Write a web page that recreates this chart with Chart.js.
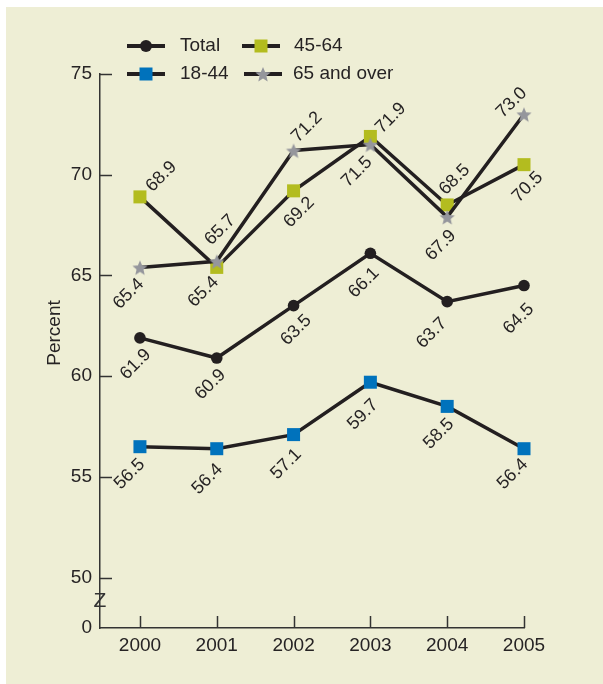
<!DOCTYPE html>
<html>
<head>
<meta charset="utf-8">
<script src="https://cdn.jsdelivr.net/npm/chart.js@4.4.1/dist/chart.umd.min.js"></script>
<style>
  body { margin: 0; background: #fff; }
  #wrap { width: 603px; height: 684px; }
</style>
</head>
<body>
<div id="wrap"><canvas id="pctChart" width="603" height="684"></canvas></div>
<script>
// data
const years = ['2000', '2001', '2002', '2003', '2004', '2005'];
const total = [61.9, 60.9, 63.5, 66.1, 63.7, 64.5];
const age1844 = [56.5, 56.4, 57.1, 59.7, 58.5, 56.4];
const age4564 = [68.9, 65.4, 69.2, 71.9, 68.5, 70.5];
const age65 = [65.4, 65.7, 71.2, 71.5, 67.9, 73.0];
const yTicks = [47.5, 50, 55, 60, 65, 70, 75]; // 47.5 sits at the broken-axis "0"
const yTickLabels = ['0', '50', '55', '60', '65', '70', '75'];

// label placement: [dx, dy, anchor side]
const totalNudge = [[8,14,'r'],[6,14,'r'],[15,12,'r'],[6,17,'r'],[-3,19,'r'],[7,21,'r']];
const nudge1844 = [[2,15,'r'],[3,18,'r'],[5,17,'r'],[5,20,'r'],[4,15,'r'],[1,13,'r']];
const nudge4564 = [[9,-8,'l'],[-1,12,'r'],[18,9,'r'],[8,-6,'l'],[-5,-13,'l'],[16,10,'r']];
const nudge65 = [[1,14,'r'],[-9,-19,'l'],[1,-11,'l'],[-1,15,'r'],[6,16,'r'],[0,-24,'r']];

const INK = '#231f20';
const TXT = '#262324';
const FONT = '"Liberation Sans", Arial, sans-serif';

function makeStar(r, color) {
    const s = Math.ceil(r * 2) + 2;
    const c = document.createElement('canvas');
    c.width = s; c.height = s;
    const g = c.getContext('2d');
    g.fillStyle = color;
    g.beginPath();
    for (let i = 0; i < 10; i++) {
        const rad = i % 2 ? r * 0.45 : r;
        const a = -Math.PI / 2 + i * Math.PI / 5;
        g.lineTo(s / 2 + rad * Math.cos(a), s / 2 + 1 + rad * Math.sin(a));
    }
    g.closePath();
    g.fill();
    return c;
}
const star = makeStar(8, '#95969c');

const toPts = arr => arr.map((v, i) => ({ x: i, y: v }));

const series = [
    { label: 'Total', data: toPts(total), pointStyle: 'circle', pointRadius: 5.8,
      pointBackgroundColor: INK, labelNudge: totalNudge, order: 3 },
    { label: '18-44', data: toPts(age1844), pointStyle: 'rect', pointRadius: 9.2,
      pointBackgroundColor: '#0072bc', labelNudge: nudge1844, order: 2 },
    { label: '45-64', data: toPts(age4564), pointStyle: 'rect', pointRadius: 9.2,
      pointBackgroundColor: '#b3bc1f', labelNudge: nudge4564, order: 1 },
    { label: '65 and over', data: toPts(age65), pointStyle: star, pointRadius: 8,
      pointBackgroundColor: '#95969c', labelNudge: nudge65, order: 0 }
];
series.forEach(s => {
    s.borderColor = INK;
    s.borderWidth = 3.5;
    s.pointBorderWidth = 0;
    s.pointBorderColor = 'rgba(0,0,0,0)';
    s.tension = 0;
    s.fill = false;
    s.clip = false;
});

// background, axis ticks, break mark, title, legend, value labels
const decor = {
    id: 'decor',
    beforeDraw(chart) {
        const c = chart.ctx;
        c.save();
        c.fillStyle = '#ffffff';
        c.fillRect(0, 0, chart.width, chart.height);
        c.fillStyle = '#eeeed5';
        c.fillRect(6, 7, chart.width - 6, chart.height - 7);
        c.restore();
    },
    afterDatasetsDraw(chart) {
        const c = chart.ctx;
        const xs = chart.scales.x, ys = chart.scales.y;
        const area = chart.chartArea;
        c.save();
        // value labels
        c.fillStyle = TXT;
        c.font = '18px ' + FONT;
        c.textBaseline = 'middle';
        chart.data.datasets.forEach((ds, di) => {
            chart.getDatasetMeta(di).data.forEach((pt, i) => {
                const [dx, dy, side] = ds.labelNudge[i];
                c.save();
                c.translate(pt.x + dx, pt.y + dy);
                c.rotate(-Math.PI / 4);
                c.textAlign = side === 'l' ? 'left' : 'right';
                c.fillText(ds.data[i].y.toFixed(1), 0, 0);
                c.restore();
            });
        });
        // inward tick marks
        c.strokeStyle = '#333';
        c.lineWidth = 1.5;
        yTicks.slice(1).forEach(v => {
            const py = Math.round(ys.getPixelForValue(v)) + 0.5;
            c.beginPath(); c.moveTo(area.left, py); c.lineTo(area.left + 12, py); c.stroke();
        });
        years.forEach((y, i) => {
            const px = Math.round(xs.getPixelForValue(i)) + 0.5;
            c.beginPath(); c.moveTo(px, area.bottom); c.lineTo(px, area.bottom - 12); c.stroke();
        });
        // axis break
        c.fillStyle = '#333';
        c.font = '21px ' + FONT;
        c.textAlign = 'center';
        c.textBaseline = 'middle';
        c.fillText('Z', area.left, (ys.getPixelForValue(47.5) + ys.getPixelForValue(50)) / 2 - 2);
        // y title
        c.save();
        c.translate(55, 333);
        c.rotate(-Math.PI / 2);
        c.fillStyle = TXT;
        c.font = '19px ' + FONT;
        c.fillText('Percent', 0, 0);
        c.restore();
        // legend
        const items = [
            { ds: 0, x: 127, y: 46, tx: 180 }, { ds: 2, x: 242, y: 46, tx: 294 },
            { ds: 1, x: 127, y: 74, tx: 180 }, { ds: 3, x: 244, y: 74, tx: 293 }
        ];
        items.forEach(it => {
            const ds = chart.data.datasets[it.ds];
            const mx = it.x + 19;
            c.strokeStyle = INK;
            c.lineWidth = 4;
            c.beginPath(); c.moveTo(it.x, it.y); c.lineTo(it.x + 38, it.y); c.stroke();
            c.fillStyle = ds.pointBackgroundColor;
            if (ds.pointStyle === 'circle') {
                c.beginPath(); c.arc(mx, it.y, 6, 0, Math.PI * 2); c.fill();
            } else if (ds.pointStyle === 'rect') {
                c.fillRect(mx - 6.5, it.y - 6.5, 13, 13);
            } else {
                c.drawImage(ds.pointStyle, mx - star.width / 2, it.y - star.height / 2);
            }
            c.fillStyle = TXT;
            c.font = '19px ' + FONT;
            c.textAlign = 'left';
            c.textBaseline = 'middle';
            c.fillText(ds.label, it.tx, it.y);
        });
        c.restore();
    }
};

const ctx = document.getElementById('pctChart').getContext('2d');
const pctChart = new Chart(ctx, {
    type: 'line',
    data: { datasets: series },
    options: {
        responsive: false,
        animation: false,
        events: [],
        layout: { padding: { left: 0, top: 74, right: 79, bottom: 16 } },
        plugins: { legend: { display: false }, tooltip: { enabled: false } },
        scales: {
            x: {
                type: 'linear',
                min: -0.52,
                max: 5,
                grid: { display: false, drawTicks: false },
                border: { display: true, color: '#333', width: 1.5 },
                afterBuildTicks: s => { s.ticks = years.map((y, i) => ({ value: i })); },
                afterFit: s => { s.height = 40; },
                ticks: {
                    padding: 6,
                    color: TXT,
                    font: { family: FONT, size: 19 },
                    maxRotation: 0,
                    callback: v => years[v]
                }
            },
            y: {
                min: 47.5,
                max: 75,
                grid: { display: false, drawTicks: false },
                border: { display: true, color: '#333', width: 1.5 },
                afterBuildTicks: s => { s.ticks = yTicks.map(v => ({ value: v })); },
                afterFit: s => { s.width = 100; },
                ticks: {
                    padding: 8,
                    color: TXT,
                    font: { family: FONT, size: 19 },
                    callback: v => yTickLabels[yTicks.indexOf(v)]
                }
            }
        }
    },
    plugins: [decor]
});
</script>
</body>
</html>
